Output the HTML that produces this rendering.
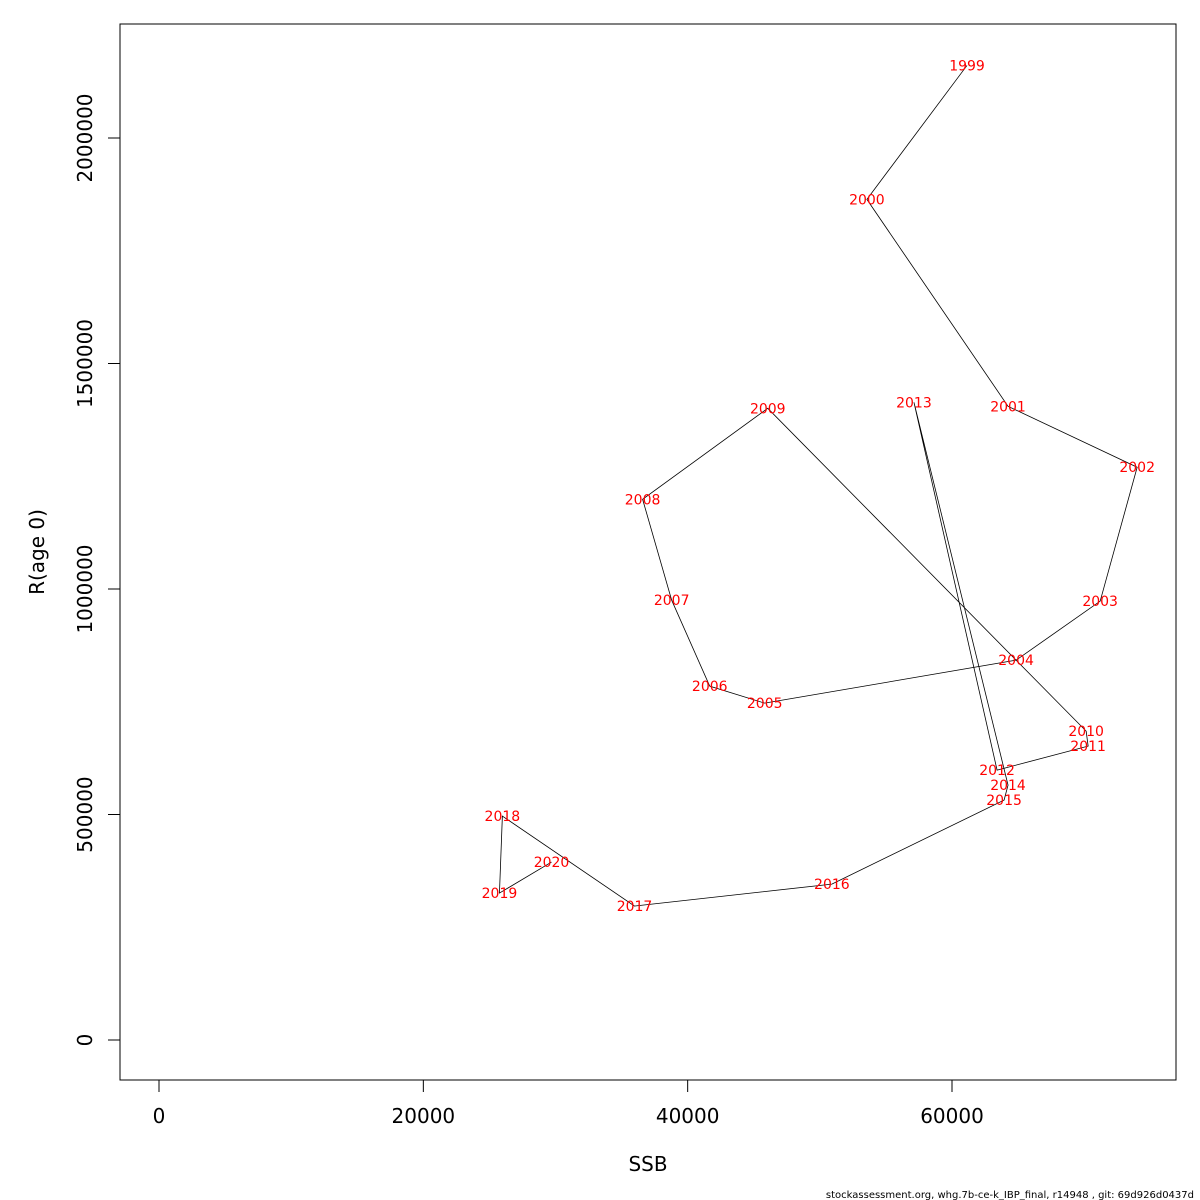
<!DOCTYPE html>
<html><head><meta charset="utf-8"><style>
html,body{margin:0;padding:0;background:#fff;}
svg{display:block;font-family:"DejaVu Sans","Liberation Sans",sans-serif;}
</style></head><body>
<svg id="chart" width="1200" height="1200" viewBox="0 0 1200 1200" xmlns="http://www.w3.org/2000/svg">
<rect x="0" y="0" width="1200" height="1200" fill="#fff"/>
<rect x="120" y="24" width="1056" height="1056" fill="none" stroke="#000" stroke-width="1"/>
<g id="xaxis"></g>
<g id="yaxis"></g>
<g id="series"></g>
<text x="648" y="1171" font-size="20" text-anchor="middle">SSB</text>
<text x="44" y="552" font-size="20" text-anchor="middle" transform="rotate(-90 44 552)">R(age 0)</text>
<text x="1194" y="1198" font-size="10" text-anchor="end">stockassessment.org, whg.7b-ce-k_IBP_final, r14948 , git: 69d926d0437d</text>
</svg>
<script>
const years=[1999,2000,2001,2002,2003,2004,2005,2006,2007,2008,2009,2010,2011,2012,2013,2014,2015,2016,2017,2018,2019,2020];
const ssb=[61136,53560,64240,74010,71210,64850,45830,41670,38790,36590,46060,70150,70300,63410,57120,64240,63940,50910,35980,25980,25760,29700];
const rec=[2160900,1863900,1405100,1270000,973000,842200,746900,784600,975200,1199000,1400700,684800,651600,598400,1414000,565100,531900,345700,297000,496500,325800,394500];
const xTicks=[0,20000,40000,60000];
const yTicks=[0,500000,1000000,1500000,2000000];
const NS="http://www.w3.org/2000/svg";
function sx(v){return 159+v*(952-159)/60000;}
function sy(v){return 1040-v*(1040-138)/2000000;}
function mk(t,a,p){const e=document.createElementNS(NS,t);for(const k in a)e.setAttribute(k,a[k]);p.appendChild(e);return e;}
const xa=document.getElementById('xaxis'),ya=document.getElementById('yaxis'),sg=document.getElementById('series');
mk('line',{x1:sx(xTicks[0]),x2:sx(xTicks[xTicks.length-1]),y1:1080,y2:1080,stroke:'#000'},xa);
xTicks.forEach(v=>{
 const l=mk('line',{x1:sx(v),x2:sx(v),y1:1080,y2:1092,stroke:'#000'},xa);
 
 
 const t=mk('text',{x:sx(v),y:1123,'font-size':20,'text-anchor':'middle'},xa);
 t.textContent=v;
 
 
});
mk('line',{x1:120,x2:120,y1:sy(yTicks[0]),y2:sy(yTicks[yTicks.length-1]),stroke:'#000'},ya);
yTicks.forEach(v=>{
 const l=mk('line',{x1:108,x2:120,y1:sy(v),y2:sy(v),stroke:'#000'},ya);
 
 
 const t=mk('text',{x:92,y:sy(v),'font-size':20,'text-anchor':'middle',transform:'rotate(-90 92 '+sy(v)+')'},ya);
 t.textContent=v;
 
 
});
const pts=ssb.map((s,i)=>sx(s)+','+sy(rec[i])).join(' ');
const pl=mk('polyline',{points:pts,fill:'none',stroke:'#000','stroke-width':0.8},sg);


years.forEach((y,i)=>{
 const t=mk('text',{x:sx(ssb[i]),y:sy(rec[i])+5,'font-size':14,fill:'#ff0000','text-anchor':'middle'},sg);
 t.textContent=y;
 
 
});
</script>
</body></html>
